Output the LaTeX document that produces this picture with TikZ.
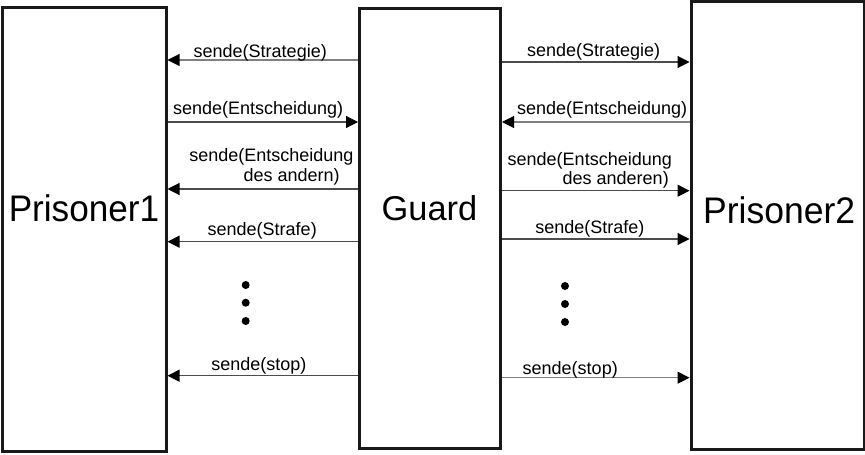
\documentclass[tikz,border=0pt]{standalone}
\usepackage{fontspec}
\setmainfont{Liberation Sans}
\usetikzlibrary{arrows.meta}
\begin{document}
\begin{tikzpicture}[x=0.5pt,y=-0.5pt,
  box/.style={draw=black!90, line width=1.5pt, inner sep=0pt, fill=white},
  msg/.style={draw=black!70, line width=0.55pt, -{Triangle[length=6pt,width=6pt,color=black]}},
  msgl/.style={msg, draw=black!50},
  lbl/.style={font=\fontsize{9pt}{10pt}\selectfont, inner sep=0pt, anchor=base west},
  big/.style={font=\fontsize{18.5pt}{20pt}\selectfont, inner sep=0pt, anchor=base},
  dot/.style={circle, fill=black, inner sep=0pt, minimum size=4pt}
]
\useasboundingbox (0,0) rectangle (865,454);
% boxes
\node[box, minimum width=81.75pt, minimum height=221.75pt] (p1) at (84.25,229.25) {};
\node[box, minimum width=70.5pt, minimum height=219.75pt] (guard) at (430,228.75) {};
\node[box, minimum width=86.5pt, minimum height=223.75pt] (p2) at (777.5,225.25) {};
% big labels
\node[big] (p1label) at (84,221.7) {\scalebox{0.95}[1]{Prisoner1}};
\node[big, font=\fontsize{17.2pt}{19pt}\selectfont] (glabel) at (429.5,220) {Guard};
\node[big] (p2label) at (779.2,223.3) {\scalebox{0.96}[1]{Prisoner2}};
% levels
\coordinate (l1) at (0,60);
\coordinate (l2) at (0,122);
\coordinate (l3) at (0,189);
\coordinate (l4) at (0,241.7);
\coordinate (l5) at (0,375.7);
\coordinate (r1) at (0,62);
\coordinate (r2) at (0,122);
\coordinate (r3) at (0,190.7);
\coordinate (r4) at (0,239);
\coordinate (r5) at (0,377.7);
% left connectors
\draw[msgl] (guard.west |- l1) -- (p1.east |- l1);
\draw[msg] (p1.east |- l2) -- (guard.west |- l2);
\draw[msg] (guard.west |- l3) -- (p1.east |- l3);
\draw[msg] (guard.west |- l4) -- (p1.east |- l4);
\draw[msg] (guard.west |- l5) -- (p1.east |- l5);
% right connectors
\draw[msg] (guard.east |- r1) -- (p2.west |- r1);
\draw[msgl] (p2.west |- r2) -- (guard.east |- r2);
\draw[msg] (guard.east |- r3) -- (p2.west |- r3);
\draw[msg] (guard.east |- r4) -- (p2.west |- r4);
\draw[msgl] (guard.east |- r5) -- (p2.west |- r5);
% left labels
\node[lbl] (t1) at (193.3,57.3) {sende(Strategie)};
\node[lbl] (t2) at (172.7,115) {sende(Entscheidung)};
\node[lbl] (t3a) at (189,161.7) {sende(Entscheidung};
\node[lbl] (t3b) at (243.3,181.7) {des andern)};
\node[lbl] (t4) at (207.3,235) {sende(Strafe)};
\node[lbl] (t5) at (211,370) {sende(stop)};
% right labels
\node[lbl] (u1) at (526.7,56.7) {sende(Strategie)};
\node[lbl] (u2) at (516.7,115) {sende(Entscheidung)};
\node[lbl] (u3a) at (507.3,165) {sende(Entscheidung};
\node[lbl] (u3b) at (562.3,184.3) {des anderen)};
\node[lbl] (u4) at (535,233.3) {sende(Strafe)};
\node[lbl] (u5) at (522.3,374) {sende(stop)};
% dots
\node[dot] (d1) at (245.7,285) {};
\node[dot] (d2) at (245.7,302.7) {};
\node[dot] (d3) at (245.7,321) {};
\node[dot] (d4) at (565,286) {};
\node[dot] (d5) at (565,304) {};
\node[dot] (d6) at (565,322) {};
\end{tikzpicture}
\end{document}
